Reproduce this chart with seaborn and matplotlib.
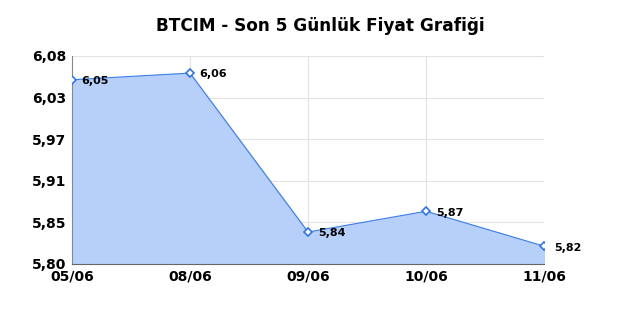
import matplotlib
matplotlib.use("Agg")
import matplotlib.pyplot as plt
import seaborn as sns
import pandas as pd

dates = ["05/06", "08/06", "09/06", "10/06", "11/06"]
prices = [6.048, 6.057, 5.843, 5.871, 5.824]
price_labels = ["6,05", "6,06", "5,84", "5,87", "5,82"]
ytick_vals = [5.80, 5.856, 5.912, 5.968, 6.024, 6.08]
ytick_labels = ["5,80", "5,85", "5,91", "5,97", "6,03", "6,08"]
title = "BTCIM - Son 5 Günlük Fiyat Grafiği"

sns.set_style("white")
plt.rcParams['font.family'] = ['DejaVu Sans']
plt.rcParams['text.color'] = 'black'
plt.rcParams['xtick.color'] = 'black'
plt.rcParams['ytick.color'] = 'black'

df = pd.DataFrame({"x": range(len(dates)), "price": prices})

fig = plt.figure(figsize=(6.4, 3.2), dpi=100)
ax = fig.add_axes([0.1125, 0.175, 0.7375, 0.65])

ax.fill_between(df["x"], df["price"], 5.80, color="#b7d0f9", zorder=1)
sns.lineplot(data=df, x="x", y="price", ax=ax, color="#3d7fe6", linewidth=0.8,
             marker="D", markersize=4.5, markerfacecolor="white",
             markeredgecolor="#2f74e6", markeredgewidth=1.2, zorder=3)

for xi, yi, lab in zip(df["x"], df["price"], price_labels):
    ax.annotate(lab, (xi, yi), xytext=(7, -1), textcoords="offset points",
                fontsize=8, fontweight="bold", va="center", ha="left", color="black")

ax.set_xlim(0, len(dates) - 1)
ax.set_ylim(5.80, 6.08)
ax.set_xticks(range(len(dates)))
ax.set_xticklabels(dates, fontsize=10, fontweight="bold", color="black")
ax.set_yticks(ytick_vals)
ax.set_yticklabels(ytick_labels, fontsize=10, fontweight="bold", color="black")
ax.tick_params(axis="both", length=0, pad=4)
ax.set_xlabel("")
ax.set_ylabel("")
ax.grid(True, color="#e3e3e3", linewidth=0.8, zorder=0)
ax.set_axisbelow(True)
for s in ["top", "right"]:
    ax.spines[s].set_visible(False)
ax.spines["left"].set_color("#888888")
ax.spines["bottom"].set_color("#666666")
ax.spines["left"].set_linewidth(0.8)
ax.spines["bottom"].set_linewidth(0.8)

fig.text(0.5, 0.918, title, ha="center", va="center", fontsize=12.2,
         fontweight="bold", color="black")

fig.savefig("out.png", dpi=100)
